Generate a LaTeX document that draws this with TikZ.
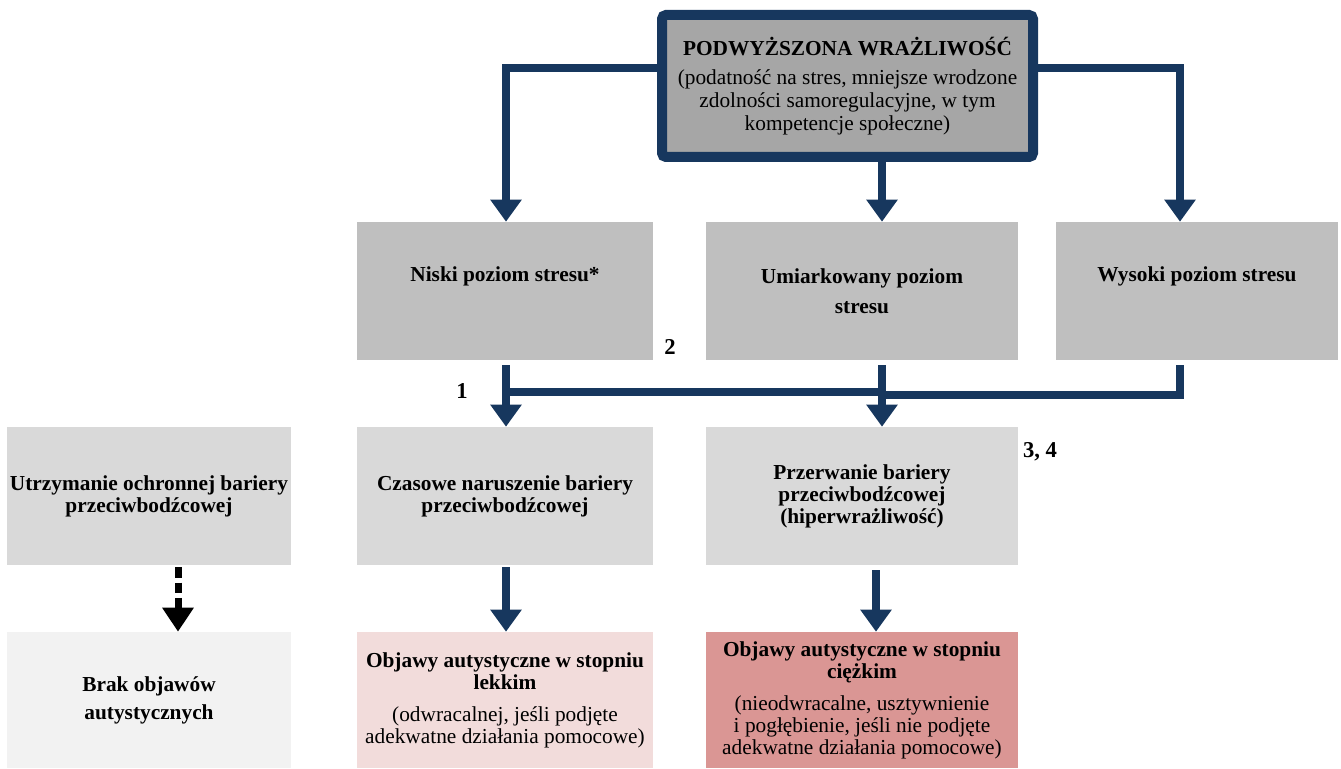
\documentclass[tikz,border=0pt]{standalone}
\usepackage{fontspec}
\setmainfont{Liberation Serif}
\usetikzlibrary{arrows.meta,calc}
\definecolor{navy}{RGB}{23,55,94}
\definecolor{topfill}{RGB}{166,166,166}
\definecolor{lvlfill}{RGB}{191,191,191}
\definecolor{barfill}{RGB}{217,217,217}
\definecolor{nonefill}{RGB}{242,242,242}
\definecolor{mildfill}{RGB}{242,220,219}
\definecolor{severefill}{RGB}{218,150,148}
\begin{document}
\begin{tikzpicture}[x=0.75pt,y=0.75pt,
  txt/.style={align=center, inner sep=0pt, font=\fontsize{16}{16.5}\selectfont\bfseries},
  box/.style={txt, minimum height=103.5pt},
  wide/.style={minimum width=234pt},
  mid/.style={minimum width=222pt},
  side/.style={minimum width=213pt},
  arr/.style={draw=navy, line width=6pt, line join=miter,
    -{Triangle[width=22.5pt,length=16.5pt]}},
  ln/.style={draw=navy, line width=6pt},
  darr/.style={draw=black, line width=5.25pt, dash pattern=on 8pt off 3.5pt,
    -{Triangle[width=22.5pt,length=18pt]}},
  num/.style={font=\fontsize{17}{17}\selectfont\bfseries, inner sep=0pt}]
\useasboundingbox (0,0) rectangle (1341,768);

% source box
\node[draw=navy, line width=7.5pt, fill=topfill, rounded corners=3pt,
  minimum width=278.25pt, minimum height=106.5pt, inner sep=0pt,
  align=center, font=\fontsize{16}{17.25}\selectfont] (top) at (847.5,682)
  {\textbf{PODWYŻSZONA WRAŻLIWOŚĆ}\\[4.5pt]
   (podatność na stres, mniejsze wrodzone\\
   zdolności samoregulacyjne, w tym\\
   kompetencje społeczne)};

% stress levels
\node[box, mid, fill=lvlfill] (niski) at (505,477) {};
\node[txt] (niskiT) at ([yshift=11.25pt]niski.center) {Niski poziom stresu*};
\node[box, wide, fill=lvlfill] (umiar) at (862,477)
  {Umiarkowany poziom\\[6pt]stresu};
\node[box, minimum width=211.5pt, fill=lvlfill] (wysoki) at (1197,477) {};
\node[txt] (wysokiT) at ([yshift=11.25pt]wysoki.center) {Wysoki poziom stresu};

% barrier states
\node[box, side, fill=barfill] (utrz) at (149,272)
  {Utrzymanie ochronnej bariery\\przeciwbodźcowej};
\node[box, mid, fill=barfill] (czas) at (505,272)
  {Czasowe naruszenie bariery\\przeciwbodźcowej};
\node[box, wide, fill=barfill] (przer) at (862,272)
  {Przerwanie bariery\\przeciwbodźcowej\\(hiperwrażliwość)};

% outcomes
\node[box, side, minimum height=102pt, fill=nonefill] (brak) at (149,68)
  {Brak objawów\\[4.5pt]autystycznych};
\node[box, mid, minimum height=102pt, fill=mildfill] (lekki) at (505,68)
  {Objawy autystyczne w stopniu\\lekkim\\[7.5pt]
   \mdseries(odwracalnej, jeśli podjęte\\
   \mdseries adekwatne działania pomocowe)};
\node[box, wide, minimum height=102pt, fill=severefill] (ciezki) at (862,68)
  {Objawy autystyczne w stopniu\\ciężkim\\[7.5pt]
   \mdseries(nieodwracalne, usztywnienie\\
   \mdseries i pogłębienie, jeśli nie podjęte\\
   \mdseries adekwatne działania pomocowe)};

% routing columns and rails
\coordinate (mx) at (882,0);
\coordinate (rx) at (1180,0);
\coordinate (lx) at (506,0);
\coordinate (dx) at (178,0);
\coordinate (sx) at (876,0);
\coordinate (railA) at (0,376);
\coordinate (railB) at (0,373);

% from the source box
\draw[arr] ([yshift=13.5pt]top.west) -| (niski.north -| lx);
\draw[arr] (top.south -| mx) -- (umiar.north -| mx);
\draw[arr] ([yshift=13.5pt]top.east) -| (wysoki.north -| rx);

% from stress levels to barrier states
\draw[arr, shorten <=3.75pt] (niski.south -| lx) -- (czas.north -| lx);
\draw[ln] (lx |- railA) -- (mx |- railA);
\draw[arr, shorten <=3.75pt] (umiar.south -| mx) -- (przer.north -| mx);
\draw[ln, line join=miter, shorten <=3.75pt] (wysoki.south -| rx) |- (mx |- railB);

% from barrier states to outcomes
\draw[darr, shorten <=1.5pt] (utrz.south -| dx) -- (brak.north -| dx);
\draw[arr, shorten <=1.5pt] (czas.south -| lx) -- (lekki.north -| lx);
\draw[arr, shorten <=3.75pt] (przer.south -| sx) -- (ciezki.north -| sx);

% path numbers
\node[num] (n1) at (462,377) {1};
\node[num] (n2) at (670,421) {2};
\node[num] (n34) at (1040,316) {3, 4};
\end{tikzpicture}
\end{document}
